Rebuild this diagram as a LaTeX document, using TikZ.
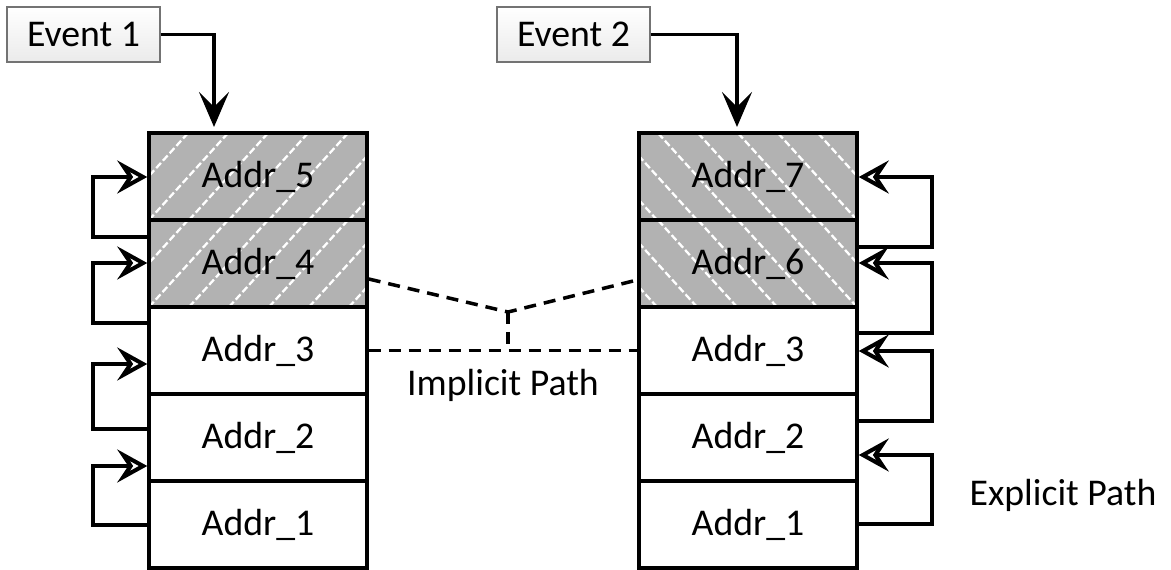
\documentclass[tikz,border=0pt]{standalone}
\usepackage{fontspec}
\setmainfont{Carlito}
\usepackage{tikz}
\usetikzlibrary{positioning,arrows.meta,calc}

\begin{document}
\begin{tikzpicture}[
  x=0.02cm, y=-0.02cm,
  font=\fontsize{21.5}{25}\selectfont,
  cell/.style={
    draw=black, line width=2pt, fill=white,
    minimum width=4.36cm, minimum height=1.74cm,
    inner sep=0pt, anchor=center,
  },
  hatchl/.style={
    cell, fill=black!30,
    path picture={
      \foreach \k in {-5,...,8}
        \draw[white, line width=1.3pt, dash pattern=on 4pt off 1.7pt]
          ([xshift=\k*0.8cm]path picture bounding box.south west) -- ++(2cm,2.2cm);
    },
  },
  hatchr/.style={
    cell, fill=black!30,
    path picture={
      \foreach \k in {-5,...,8}
        \draw[white, line width=1.3pt, dash pattern=on 4pt off 1.7pt]
          ([xshift=-\k*0.8cm]path picture bounding box.south east) -- ++(-2cm,2.2cm);
    },
  },
  event/.style={
    draw=black!55, line width=0.6pt, top color=white, bottom color=black!8,
    minimum width=3.06cm, minimum height=1.1cm, inner sep=0pt,
  },
  trig/.style={-{Stealth[length=7mm, width=6mm, inset=3mm]}, line width=2pt},
  back/.style={-{Stealth[open, length=6mm, width=6.6mm, inset=2.2mm, line width=2.3pt]}, line width=2pt},
  implicit/.style={line width=2pt, dash pattern=on 0.24cm off 0.16cm},
  lbl/.style={inner sep=0pt},
]
\useasboundingbox (0,0) rectangle (1171,570);

% Event sources
\node[event] (ev1) at (83.5,34.5) {Event 1};
\node[event] (ev2) at (573.5,34.5) {Event 2};

% Left stack, Addr_5 on top
\node[hatchl] (l5) at (258,176.5) {Addr\_5};
\node[hatchl] (l4) at (258,263.5) {Addr\_4};
\node[cell]   (l3) at (258,350.5) {Addr\_3};
\node[cell]   (l2) at (258,437.5) {Addr\_2};
\node[cell]   (l1) at (258,524.5) {Addr\_1};

% Right stack, Addr_7 on top
\node[hatchr] (r7) at (748,176.5) {Addr\_7};
\node[hatchr] (r6) at (748,263.5) {Addr\_6};
\node[cell]   (r3) at (748,350.5) {Addr\_3};
\node[cell]   (r2) at (748,437.5) {Addr\_2};
\node[cell]   (r1) at (748,524.5) {Addr\_1};

% Event arrows into the top entries
\coordinate (in1) at (214,127);
\coordinate (in2) at (737,127);
\draw[trig] (ev1.east) -| (in1);
\draw[trig] (ev2.east) -| (in2);

% Explicit back pointers, left side
\draw[back] (l4.west |- 0,237) -| (93,200) |- (l5.west |- 0,177);
\draw[back] (l3.west |- 0,323) -| (93,300) |- (l4.west |- 0,263);
\draw[back] (l2.west |- 0,429) -| (93,400) |- (l3.west |- 0,364);
\draw[back] (l1.west |- 0,525) -| (93,500) |- (l2.west |- 0,466);

% Explicit back pointers, right side
\draw[back] (r6.east |- 0,247) -| (932,200) |- (r7.east |- 0,177);
\draw[back] (r3.east |- 0,333) -| (932,300) |- (r6.east |- 0,263);
\draw[back] (r2.east |- 0,421) -| (932,400) |- (r3.east |- 0,351);
\draw[back] (r1.east |- 0,524) -| (932,500) |- (r2.east |- 0,455);

% Implicit path between the two stacks
\coordinate (join) at (508,312);
\draw[implicit] (l4.east |- 0,279) -- (join) -- (r6.west |- 0,280);
\draw[implicit] (l3.east) -- (r3.west);
\draw[implicit] (join) -- (join |- l3.east);

\node[lbl] (imp) at (503,385) {Implicit Path};
\node[lbl] (exp) at (1063,495) {Explicit Path};

\end{tikzpicture}
\end{document}
